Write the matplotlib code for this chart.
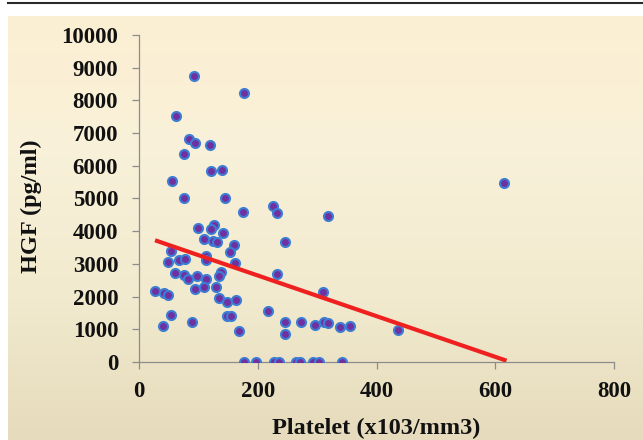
import numpy as np
import matplotlib
matplotlib.use('Agg')
import matplotlib.pyplot as plt
from matplotlib.lines import Line2D

# platelet count (x10^3/mm3) and HGF (pg/ml) per patient
platelet = [93, 176, 63, 84, 95, 119, 75, 122, 139, 56, 75, 144, 175, 226, 233,
            319, 615, 100, 127, 122, 142, 110, 125, 131, 54, 160, 154, 49, 67,
            77, 113, 113, 162, 246, 61, 75, 83, 97, 113, 138, 135, 233, 27, 42,
            48, 94, 110, 130, 135, 149, 163, 310, 54, 40, 89, 149, 155, 168,
            218, 246, 272, 246, 297, 311, 318, 338, 356, 436,
            176, 197, 227, 236, 265, 271, 293, 303, 342]
hgf = [8750, 8220, 7520, 6820, 6700, 6630, 6370, 5840, 5870, 5520, 5020, 5020,
       4590, 4770, 4550, 4450, 5460, 4110, 4190, 4060, 3950, 3760, 3690, 3670,
       3400, 3590, 3350, 3050, 3120, 3160, 3240, 3120, 3020, 3660, 2720, 2650,
       2550, 2620, 2530, 2760, 2630, 2690, 2180, 2110, 2040, 2240, 2300, 2300,
       1970, 1830, 1900, 2150, 1450, 1100, 1230, 1400, 1400, 940, 1550, 1230,
       1230, 850, 1135, 1215, 1195, 1075, 1100, 970,
       0, 0, 0, 0, 0, 0, 0, 0, 0]

# linear trend line
trend_intercept = 3890
trend_slope = -6.22
trend_range = [27, 619]

x_ticks = [0, 200, 400, 600, 800]
y_ticks = list(range(0, 10001, 1000))

plt.rcParams['font.family'] = ['Liberation Serif', 'DejaVu Serif']
plt.rcParams['font.weight'] = 'bold'

fig = plt.figure(figsize=(6.43, 4.40), dpi=100)
fig.patch.set_facecolor('white')

# cream gradient panel behind the chart
bg = fig.add_axes([8 / 643, 0, 1 - 8 / 643, 1 - 16 / 440], zorder=-10)
stops = np.array([[252, 239, 211], [248, 241, 217], [241, 234, 206],
                  [230, 219, 188]]) / 255.0
pos = np.linspace(0, 1, len(stops))
t = np.linspace(0, 1, 256)
grad = np.stack([np.interp(t, pos, stops[:, c]) for c in range(3)], axis=1)
bg.imshow(grad[:, None, :], aspect='auto', extent=[0, 1, 0, 1], origin='upper')
bg.set_axis_off()

fig.add_artist(Line2D([8 / 643, 1], [1 - 3.5 / 440] * 2, color='#2a2a2a',
                      lw=1.5, transform=fig.transFigure))

ax = fig.add_axes([139 / 643, 78 / 440, 475 / 643, 327 / 440])
ax.set_facecolor('none')

ax.plot(platelet, hgf, 'o', ms=6.5, mfc='#7030A0', mec='#3C7ED4', mew=1.5,
        zorder=3)

tx = np.array(trend_range)
ax.plot(tx, trend_intercept + trend_slope * tx, color='#EE2020', lw=3.0,
        solid_capstyle='butt', zorder=4)

ax.set_xlim(0, 800)
ax.set_ylim(0, 10000)
ax.set_xticks(x_ticks)
ax.set_yticks(y_ticks)
ax.tick_params(labelsize=16.5, length=5, width=0.9, color='#8c8c8c',
               labelcolor='#111111', pad=9)
ax.tick_params(axis='y', pad=10)
for s in ['top', 'right']:
    ax.spines[s].set_visible(False)
for s in ['left', 'bottom']:
    ax.spines[s].set_color('#8c8c8c')
    ax.spines[s].set_linewidth(0.9)

ax.set_xlabel('Platelet (x103/mm3)', fontsize=17.5, fontweight='bold',
              color='#111111')
ax.set_ylabel('HGF (pg/ml)', fontsize=17.5, fontweight='bold',
              color='#111111')
ax.xaxis.set_label_coords(0.5, -0.172)
ax.yaxis.set_label_coords(-0.205, 0.477)

fig.savefig('out.png', dpi=100)
